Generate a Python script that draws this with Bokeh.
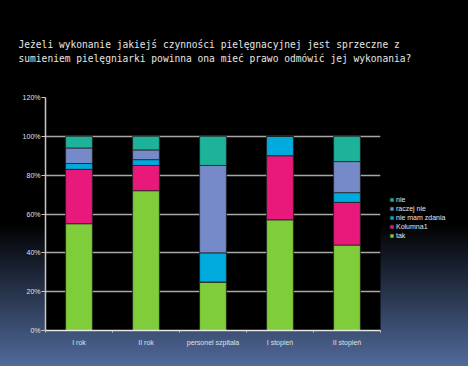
from bokeh.plotting import figure
from bokeh.models import (ColumnDataSource, Legend, LegendItem, FixedTicker,
                          NumeralTickFormatter, Range1d)
from bokeh.embed import file_html
from bokeh.resources import INLINE

categories = ["I rok", "II rok", "personel szpitala", "I stopień", "II stopień"]
series = ["tak", "Kolumna1", "nie mam zdania", "raczej nie", "nie"]
tak = [0.55, 0.72, 0.25, 0.57, 0.44]
kolumna1 = [0.28, 0.13, 0.00, 0.33, 0.22]
nie_mam_zdania = [0.03, 0.03, 0.15, 0.10, 0.05]
raczej_nie = [0.08, 0.05, 0.45, 0.00, 0.16]
nie = [0.06, 0.07, 0.15, 0.00, 0.13]
colors = ["#7fcd3b", "#e8197b", "#00aadd", "#7689c8", "#1db39b"]
y_ticks = [0, 0.2, 0.4, 0.6, 0.8, 1.0, 1.2]
title_text = ("Jeżeli wykonanie jakiejś czynności pielęgnacyjnej jest sprzeczne z\n"
              "sumieniem pielęgniarki powinna ona mieć prawo odmówić jej wykonania?")

xs = [i + 0.5 for i in range(len(categories))]
source = ColumnDataSource(dict(x=xs, tak=tak, Kolumna1=kolumna1,
                               **{"nie mam zdania": nie_mam_zdania,
                                  "raczej nie": raczej_nie, "nie": nie}))

p = figure(frame_width=335, frame_height=233, output_backend="svg", toolbar_location=None,
           x_range=Range1d(0, len(categories)), y_range=Range1d(0, 1.2),
           min_border_left=45, min_border_right=88, min_border_top=97,
           min_border_bottom=36, background_fill_color="black",
           border_fill_alpha=0, outline_line_color=None)
p.styles = {"background": "linear-gradient(to bottom, #000000 0%, #000000 61%, #516a9a 100%)"}

p.title.text = title_text
p.title.align = "left"
p.title.offset = -27
p.title.standoff = 66
p.title.text_font = "DejaVu Sans Mono"
p.title.text_font_size = "9.6px"
p.title.text_font_style = "normal"
p.title.text_color = "#e6e6e6"
p.title.text_line_height = 1.3

renderers = p.vbar_stack(series, x="x", width=0.4, color=colors, source=source,
                         line_color="#222222", line_width=0.8)

items = [LegendItem(label=s, renderers=[r]) for s, r in zip(series, renderers)][::-1]
legend = Legend(items=items, location=(9, 91), background_fill_alpha=0,
                border_line_color=None, label_text_color="#e6e6e6",
                label_text_font="Liberation Sans", label_text_font_size="7px",
                glyph_width=5, glyph_height=5, label_height=8, spacing=1,
                label_standoff=2, padding=4, margin=0)
p.add_layout(legend, "right")

p.yaxis.ticker = FixedTicker(ticks=y_ticks)
p.yaxis.formatter = NumeralTickFormatter(format="0%")
p.yaxis.axis_line_color = "#c8c8c8"
p.yaxis.axis_line_width = 1.5
p.yaxis.major_tick_line_color = "#c8c8c8"
p.yaxis.major_tick_out = 4
p.yaxis.major_tick_in = 0
p.yaxis.minor_tick_line_color = None
p.yaxis.major_label_text_color = "#e0e0e0"
p.yaxis.major_label_text_font = "Liberation Sans"
p.yaxis.major_label_text_font_size = "7px"
p.yaxis.major_label_standoff = 1

p.xaxis.ticker = FixedTicker(ticks=xs, minor_ticks=list(range(len(categories) + 1)))
p.xaxis.major_label_overrides = {x: c for x, c in zip(xs, categories)}
p.xaxis.axis_line_color = "#e6e6e6"
p.xaxis.axis_line_width = 1.5
p.xaxis.major_tick_line_color = None
p.xaxis.minor_tick_line_color = "#c8c8c8"
p.xaxis.minor_tick_out = 2
p.xaxis.minor_tick_in = 0
p.xaxis.major_label_text_color = "#e0e0e0"
p.xaxis.major_label_text_font = "Liberation Sans"
p.xaxis.major_label_text_font_size = "7px"
p.xaxis.major_label_standoff = 2

p.xgrid.grid_line_color = None
p.ygrid.grid_line_color = "#a8a8a8"
p.ygrid.grid_line_width = 1.3

open("out.html", "w").write(file_html(p, INLINE))
